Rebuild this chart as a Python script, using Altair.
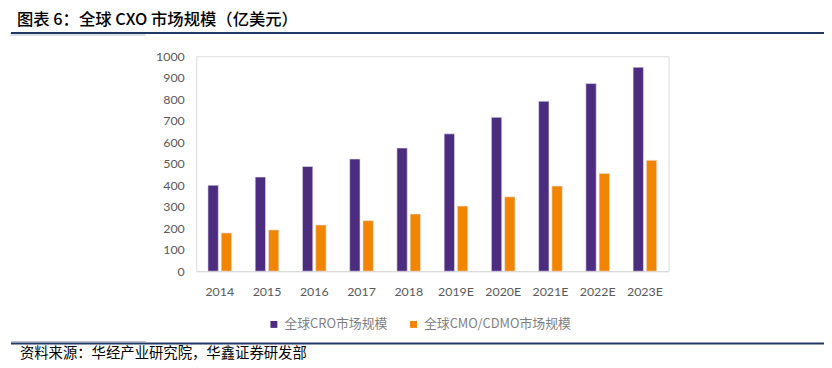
import altair as alt
import pandas as pd

years = ["2014", "2015", "2016", "2017", "2018", "2019E", "2020E", "2021E", "2022E", "2023E"]
cro = [400, 438, 487, 522, 573, 639, 716, 791, 873, 949]
cmo = [178, 192, 215, 235, 266, 303, 346, 396, 455, 516]
series = ["全球CRO市场规模", "全球CMO/CDMO市场规模"]
colors = ["#4B2C7F", "#F28500"]
y_ticks = list(range(0, 1001, 100))
title_text = "图表 6：全球 CXO 市场规模（亿美元）"
source_text = "资料来源：华经产业研究院，华鑫证券研发部"

rows = []
for i, yr in enumerate(years):
    rows.append({"year": yr, "series": series[0], "value": cro[i]})
    rows.append({"year": yr, "series": series[1], "value": cmo[i]})
df = pd.DataFrame(rows)

W, H = 477, 217
PL, PT = 190, 47

bars = alt.Chart(df).mark_bar(stroke="#e8e4f0", strokeWidth=0.6).encode(
    x=alt.X("year:N", sort=years, title=None,
            scale=alt.Scale(paddingInner=0.5, paddingOuter=0.25),
            axis=alt.Axis(labelAngle=0, ticks=False, domainColor="#d9d9d9", domainWidth=1,
                          labelColor="#595959", labelFont="Lato", labelFontSize=12.5,
                          labelPadding=15)),
    xOffset=alt.XOffset("series:N", sort=series, scale=alt.Scale(paddingInner=0.22)),
    y=alt.Y("value:Q", title=None,
            scale=alt.Scale(domain=[0, 1000], nice=False),
            axis=alt.Axis(values=y_ticks, format="d", ticks=False, domain=False, grid=False,
                          labelColor="#595959", labelFont="Lato", labelFontSize=12.5,
                          labelPadding=12)),
    color=alt.Color("series:N", sort=series,
                    scale=alt.Scale(domain=series, range=colors),
                    legend=alt.Legend(title=None, orient="none", legendX=72, legendY=264,
                                      direction="horizontal", symbolType="square",
                                      symbolSize=49, symbolStrokeWidth=0,
                                      labelFont="Noto Sans CJK SC", labelFontSize=13,
                                      labelColor="#7f7f7f", columnPadding=19,
                                      labelOffset=4, padding=0)),
)

title = alt.Chart(pd.DataFrame({"t": [title_text]})).mark_text(
    align="left", baseline="middle", font="Noto Sans CJK SC", fontSize=16.5,
    fontWeight=500, color="#000000"
).encode(x=alt.value(17 - 8 - PL), y=alt.value(18 - 8 - PT), text="t:N")

source = alt.Chart(pd.DataFrame({"t": [source_text]})).mark_text(
    align="left", baseline="middle", font="Noto Sans CJK SC", fontSize=14.5,
    fontWeight="normal", color="#000000"
).encode(x=alt.value(20 - 8 - PL), y=alt.value(356 - 8 - PT), text="t:N")

top_line = alt.Chart(pd.DataFrame({"a": [0]})).mark_rule(color="#1f3864", strokeWidth=2).encode(
    x=alt.value(11 - 8 - PL), x2=alt.value(832 - 8 - PL), y=alt.value(31.5 - 8 - PT))
top_line2 = alt.Chart(pd.DataFrame({"a": [0]})).mark_rule(color="#b8c0d0", strokeWidth=1).encode(
    x=alt.value(11 - 8 - PL), x2=alt.value(147 - 8 - PL), y=alt.value(33.5 - 8 - PT))
bot_line = alt.Chart(pd.DataFrame({"a": [0]})).mark_rule(color="#1f3864", strokeWidth=2).encode(
    x=alt.value(11 - 8 - PL), x2=alt.value(832 - 8 - PL), y=alt.value(345 - 8 - PT))
bot_line2 = alt.Chart(pd.DataFrame({"a": [0]})).mark_rule(color="#b8c0d0", strokeWidth=1).encode(
    x=alt.value(11 - 8 - PL), x2=alt.value(147 - 8 - PL), y=alt.value(343 - 8 - PT))

chart = alt.layer(bars, top_line2, top_line, bot_line2, bot_line, title, source).properties(
    width=W, height=H,
    autosize=alt.AutoSizeParams(type="none"),
    padding={"left": PL, "top": PT, "right": 824 - PL - W, "bottom": 360 - PT - H},
).configure_view(stroke=None).configure(background="white")

chart.save("out.html", embed_options={"renderer": "svg", "actions": False})
